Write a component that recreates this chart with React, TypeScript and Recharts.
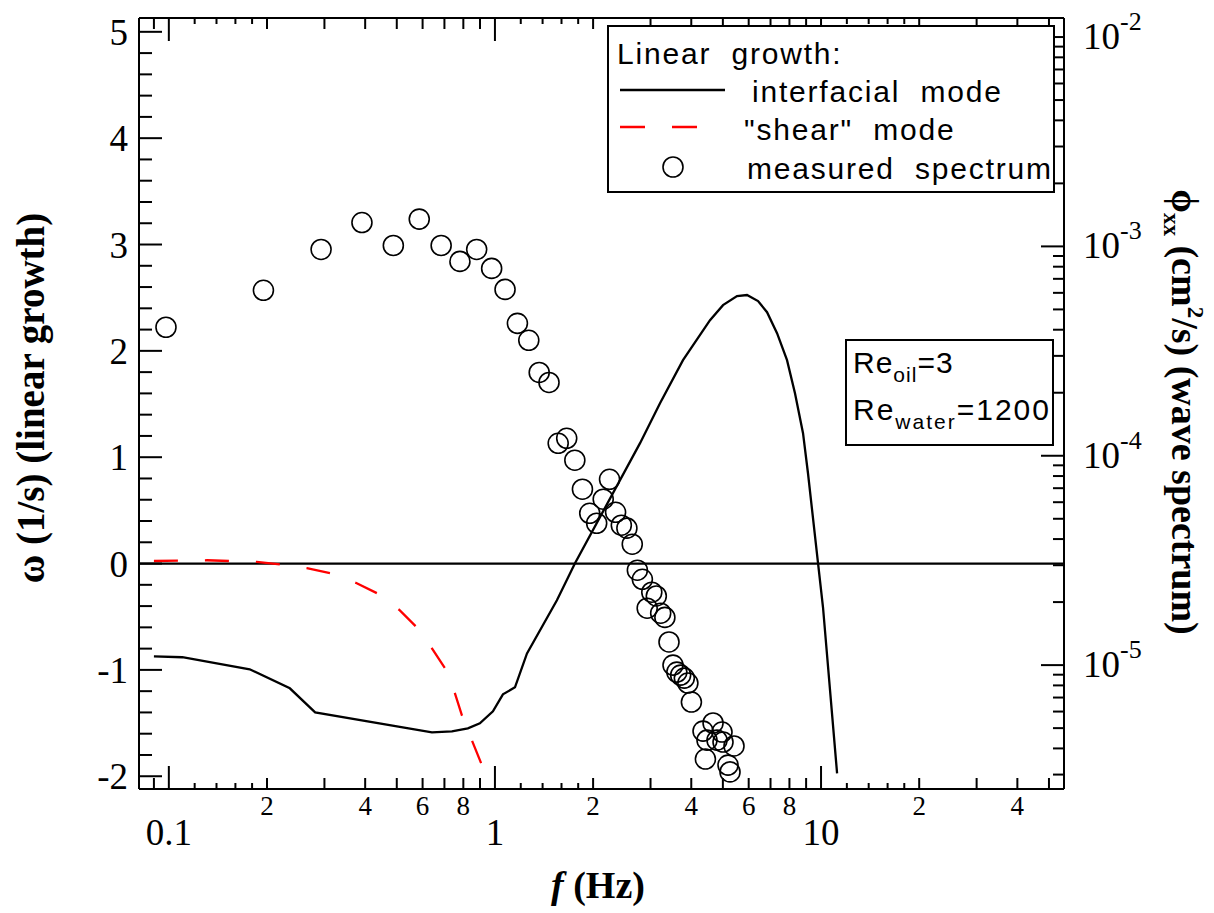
import React from "react";
import {
    ComposedChart,
    Line,
    ReferenceLine,
    Scatter,
    XAxis,
    YAxis,
} from "recharts";

// linear growth, interfacial mode: f (Hz) and omega (1/s)
const interfacialF = [
    0.09, 0.11, 0.177, 0.235, 0.281, 0.641, 0.738, 0.826, 0.899, 0.986, 1.058,
    1.152, 1.254, 1.549, 1.76, 2.786, 3.208, 3.773, 4.566, 5.005, 5.525, 5.93,
    6.41, 6.83, 7.33, 7.865, 8.32, 8.806, 9.12, 9.79, 10.14, 11.2,
];
const interfacialW = [
    -0.872, -0.881, -0.994, -1.173, -1.399, -1.587, -1.578, -1.549, -1.502,
    -1.39, -1.23, -1.164, -0.845, -0.345, 0.003, 1.132, 1.508, 1.913, 2.289,
    2.43, 2.515, 2.525, 2.468, 2.364, 2.166, 1.913, 1.602, 1.226, 0.849, 0.003,
    -0.411, -1.973,
];

// linear growth, "shear" mode
const shearF = [
    0.09, 0.131, 0.186, 0.219, 0.265, 0.312, 0.377, 0.435, 0.511, 0.576, 0.641,
    0.703, 0.754, 0.792, 0.85, 0.912,
];
const shearW = [
    0.024, 0.031, 0.015, -0.007, -0.044, -0.091, -0.185, -0.279, -0.44, -0.6,
    -0.798, -0.985, -1.22, -1.428, -1.663, -1.895,
];

// measured wave spectrum phi_xx (cm^2/s)
const spectrumF = [
    0.098, 0.195, 0.293, 0.391, 0.488, 0.586, 0.684, 0.781, 0.879, 0.977, 1.074,
    1.172, 1.27, 1.367, 1.465, 1.563, 1.66, 1.758, 1.855, 1.953, 2.051, 2.148,
    2.246, 2.344, 2.441, 2.539, 2.637, 2.734, 2.832, 2.93, 3.027, 3.125, 3.223,
    3.32, 3.418, 3.516, 3.613, 3.711, 3.809, 3.906, 4.004, 4.346, 4.47, 4.42,
    4.665, 4.797, 4.97, 5.005, 5.185, 5.259, 5.409,
];
const spectrumPhi = [
    4.11e-4, 6.17e-4, 9.67e-4, 1.3e-3, 1.01e-3, 1.35e-3, 1.01e-3, 8.48e-4,
    9.67e-4, 7.85e-4, 6.23e-4, 4.29e-4, 3.56e-4, 2.5e-4, 2.24e-4, 1.147e-4,
    1.212e-4, 9.52e-5, 6.92e-5, 5.31e-5, 4.76e-5, 6.2e-5, 7.72e-5, 5.37e-5,
    4.66e-5, 4.51e-5, 3.78e-5, 2.84e-5, 2.57e-5, 1.87e-5, 2.23e-5, 2.14e-5,
    1.77e-5, 1.69e-5, 1.29e-5, 1.0e-5, 9.26e-6, 8.96e-6, 8.67e-6, 8.21e-6,
    6.66e-6, 4.84e-6, 4.38e-6, 3.56e-6, 5.29e-6, 4.38e-6, 4.79e-6, 4.29e-6,
    3.33e-6, 3.09e-6, 4.11e-6,
];

const xTicks = [
    0.09, 0.1, 0.12, 0.14, 0.16, 0.18, 0.2, 0.3, 0.4, 0.5, 0.6, 0.7, 0.8, 0.9,
    1, 1.2, 1.4, 1.6, 1.8, 2, 3, 4, 5, 6, 7, 8, 9, 10, 12, 14, 16, 18, 20, 30,
    40, 50,
];
const leftTicks = [
    -2, -1.8, -1.6, -1.4, -1.2, -1, -0.8, -0.6, -0.4, -0.2, 0, 0.2, 0.4, 0.6,
    0.8, 1, 1.2, 1.4, 1.6, 1.8, 2, 2.2, 2.4, 2.6, 2.8, 3, 3.2, 3.4, 3.6, 3.8, 4,
    4.2, 4.4, 4.6, 4.8, 5,
];
const rightTicks = [
    3e-6, 4e-6, 5e-6, 6e-6, 7e-6, 8e-6, 9e-6, 1e-5, 2e-5, 3e-5, 4e-5, 5e-5,
    6e-5, 7e-5, 8e-5, 9e-5, 1e-4, 2e-4, 3e-4, 4e-4, 5e-4, 6e-4, 7e-4, 8e-4,
    9e-4, 1e-3, 2e-3, 3e-3, 4e-3, 5e-3, 6e-3, 7e-3, 8e-3, 9e-3, 1e-2,
];

const interfacialData = interfacialF.map((f, i) => ({ f, w: interfacialW[i] }));
const shearData = shearF.map((f, i) => ({ f, w: shearW[i] }));
const spectrumData = spectrumF.map((f, i) => ({ f, phi: spectrumPhi[i] }));

const SERIF = "'Liberation Serif', 'Times New Roman', serif";
const SANS = "'Liberation Sans', Arial, sans-serif";
const GAP = "\u00a0\u00a0";

function mantissa(v: number) {
    const e = Math.floor(Math.log10(v) + 1e-9);
    return Math.round((v / Math.pow(10, e)) * 10) / 10;
}

function BottomTick({ x, y, payload }: any) {
    const v = payload.value;
    const m = mantissa(v);
    const len = m === 1 ? 23 : Number.isInteger(m) ? 11 : 6;
    let label = null;
    if (m === 1) {
        label = (
            <text x={x} y={y + 56} textAnchor="middle" fontSize={37} fontFamily={SERIF} fill="#000">
                {String(v)}
            </text>
        );
    } else if (m === 2 || m === 4 || m === 6 || m === 8) {
        label = (
            <text x={x} y={y + 26} textAnchor="middle" fontSize={27} fontFamily={SERIF} fill="#000">
                {m}
            </text>
        );
    }
    return (
        <g>
            <line x1={x} x2={x} y1={y} y2={y - len} stroke="#000" strokeWidth={2} />
            {label}
        </g>
    );
}

function TopTick({ x, y, payload }: any) {
    const m = mantissa(payload.value);
    const len = m === 1 ? 23 : Number.isInteger(m) ? 11 : 6;
    return <line x1={x} x2={x} y1={y} y2={y + len} stroke="#000" strokeWidth={2} />;
}

function LeftTick({ x, y, payload }: any) {
    const v = payload.value;
    const major = Math.abs(v - Math.round(v)) < 1e-6;
    return (
        <g>
            <line x1={x} x2={x + (major ? 23 : 13)} y1={y} y2={y} stroke="#000" strokeWidth={2} />
            {major && (
                <text x={x - 11} y={y + 13} textAnchor="end" fontSize={37} fontFamily={SERIF} fill="#000">
                    {String(Math.round(v))}
                </text>
            )}
        </g>
    );
}

function RightTick({ x, y, payload }: any) {
    const v = payload.value;
    const decade = mantissa(v) === 1;
    const exp = Math.round(Math.log10(v));
    return (
        <g>
            <line x1={x} x2={x - (decade ? 23 : 11)} y1={y} y2={y} stroke="#000" strokeWidth={2} />
            {decade && (
                <text x={x + 19} y={y + 12} fontSize={37} fontFamily={SERIF} fill="#000">
                    10
                    <tspan dy={-19} fontSize={26}>
                        {String(exp)}
                    </tspan>
                </text>
            )}
        </g>
    );
}

function Annotations() {
    return (
        <svg
            width={1214}
            height={913}
            style={{ position: "absolute", left: 0, top: 0, pointerEvents: "none" }}
        >
            {/* axis titles */}
            <text
                transform="translate(44,398) rotate(-90)"
                textAnchor="middle"
                fontSize={39}
                fontWeight="bold"
                fontFamily={SERIF}
            >
                ω (1/s) (linear growth)
            </text>
            <text x={598} y={898} textAnchor="middle" fontSize={38} fontWeight="bold" fontFamily={SERIF}>
                <tspan fontStyle="italic">f</tspan> (Hz)
            </text>
            <text
                transform="translate(1172,412) rotate(90)"
                textAnchor="middle"
                fontSize={38}
                fontWeight="bold"
                fontFamily={SERIF}
            >
                ϕ
                <tspan fontSize={23} dy={8}>xx</tspan>
                <tspan dy={-8}> (cm</tspan>
                <tspan fontSize={23} dy={-16}>2</tspan>
                <tspan dy={16}>/s) (wave spectrum)</tspan>
            </text>

            {/* legend */}
            <rect x={608} y={26} width={446} height={166} fill="#fff" stroke="#000" strokeWidth={2} />
            <g fontFamily={SANS} fontSize={30} letterSpacing={1.8}>
                <text x={617} y={64}>{`Linear${GAP}growth:`}</text>
                <line x1={620} x2={725} y1={90} y2={90} stroke="#000" strokeWidth={2.3} />
                <text x={752} y={102}>{`interfacial${GAP}mode`}</text>
                <line
                    x1={620}
                    x2={700}
                    y1={127}
                    y2={127}
                    stroke="#ff0000"
                    strokeWidth={2.3}
                    strokeDasharray="25 27"
                />
                <text x={744} y={140}>{`"shear"${GAP}mode`}</text>
                <circle cx={673} cy={167} r={10} fill="none" stroke="#000" strokeWidth={1.6} />
                <text x={747} y={179}>{`measured${GAP}spectrum`}</text>
            </g>

            {/* Reynolds numbers */}
            <rect x={846} y={340} width={207} height={105} fill="#fff" stroke="#000" strokeWidth={2} />
            <g fontFamily={SANS} fontSize={30}>
                <text x={853} y={373} letterSpacing={1}>
                    Re
                    <tspan fontSize={21} dy={9}>oil</tspan>
                    <tspan dy={-9}>=3</tspan>
                </text>
                <text x={853} y={420} letterSpacing={2}>
                    Re
                    <tspan fontSize={21} dy={9}>water</tspan>
                    <tspan dy={-9}>=1200</tspan>
                </text>
            </g>
        </svg>
    );
}

export default function App() {
    return (
        <div
            style={{
                position: "absolute",
                left: 0,
                top: 0,
                width: 1214,
                height: 913,
                background: "#ffffff",
            }}
        >
            <ComposedChart width={1214} height={913} margin={{ top: 0, right: 0, bottom: 0, left: 0 }}>
                <XAxis
                    xAxisId="bottom"
                    dataKey="f"
                    type="number"
                    scale="log"
                    domain={[0.081, 55.6]}
                    allowDataOverflow
                    ticks={xTicks}
                    interval={0}
                    height={124}
                    tickSize={0}
                    tickMargin={0}
                    tickLine={false}
                    axisLine={{ stroke: "#000", strokeWidth: 2 }}
                    tick={BottomTick}
                />
                <XAxis
                    xAxisId="top"
                    orientation="top"
                    dataKey="f"
                    type="number"
                    scale="log"
                    domain={[0.081, 55.6]}
                    allowDataOverflow
                    ticks={xTicks}
                    interval={0}
                    height={18}
                    tickSize={0}
                    tickMargin={0}
                    tickLine={false}
                    axisLine={{ stroke: "#000", strokeWidth: 2 }}
                    tick={TopTick}
                />
                <YAxis
                    yAxisId="left"
                    type="number"
                    domain={[-2.12, 5.13]}
                    allowDataOverflow
                    ticks={leftTicks}
                    interval={0}
                    width={139}
                    tickSize={0}
                    tickMargin={0}
                    tickLine={false}
                    axisLine={{ stroke: "#000", strokeWidth: 2 }}
                    tick={LeftTick}
                />
                <YAxis
                    yAxisId="right"
                    orientation="right"
                    dataKey="phi"
                    type="number"
                    scale="log"
                    domain={[2.56e-6, 0.01233]}
                    allowDataOverflow
                    ticks={rightTicks}
                    interval={0}
                    width={150}
                    tickSize={0}
                    tickMargin={0}
                    tickLine={false}
                    axisLine={{ stroke: "#000", strokeWidth: 2 }}
                    tick={RightTick}
                />
                <ReferenceLine xAxisId="bottom" yAxisId="left" y={0} stroke="#000" strokeWidth={2.3} />
                <Line
                    xAxisId="bottom"
                    yAxisId="left"
                    data={shearData}
                    dataKey="w"
                    type="linear"
                    stroke="#ff0000"
                    strokeWidth={2.3}
                    strokeDasharray="24 27"
                    dot={false}
                    activeDot={false}
                    isAnimationActive={false}
                />
                <Line
                    xAxisId="bottom"
                    yAxisId="left"
                    data={interfacialData}
                    dataKey="w"
                    type="linear"
                    stroke="#000"
                    strokeWidth={2.3}
                    dot={false}
                    activeDot={false}
                    isAnimationActive={false}
                />
                <Scatter
                    xAxisId="bottom"
                    yAxisId="right"
                    data={spectrumData}
                    dataKey="phi"
                    isAnimationActive={false}
                    shape={(p: any) => (
                        <circle cx={p.cx} cy={p.cy} r={10} fill="none" stroke="#000" strokeWidth={1.6} />
                    )}
                />
            </ComposedChart>
            <Annotations />
        </div>
    );
}
